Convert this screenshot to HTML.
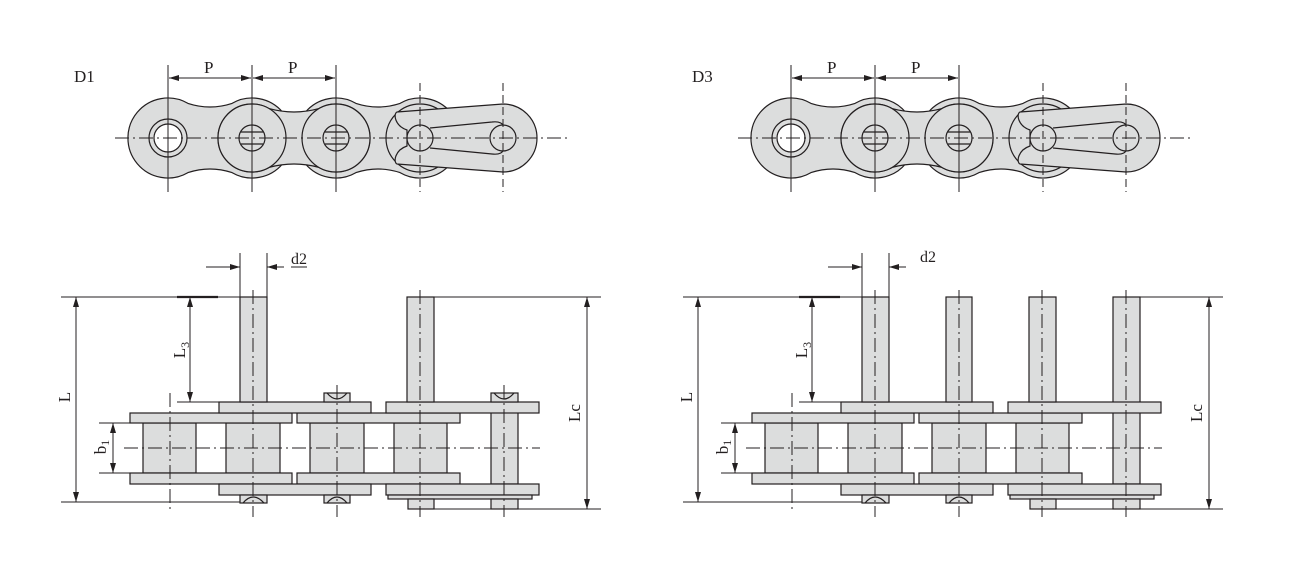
<!DOCTYPE html>
<html><head><meta charset="utf-8"><style>
html,body{margin:0;padding:0;background:#fff;}
svg{display:block;}
text{font-family:"Liberation Serif",serif;fill:#231f20;}
</style></head><body>
<svg width="1315" height="575" viewBox="0 0 1315 575" xmlns="http://www.w3.org/2000/svg">
<defs>
<marker id="a" viewBox="0 0 10 6" refX="10" refY="3" markerWidth="10" markerHeight="6" orient="auto" markerUnits="userSpaceOnUse"><path d="M0,0 L10,3 L0,6 Z" fill="#231f20"/></marker>
</defs>

<g id="top" stroke="#231f20" stroke-width="1.2" fill="#dcdddd">
  <path d="M188,103.4 A40 40 0 1 0 188,172.6 Q210,165.4 232,172.6 A40 40 0 1 0 232,103.4 Q210,110.6 188,103.4 Z"/>
  <path d="M356,103.4 A40 40 0 1 0 356,172.6 Q378,165.4 400,172.6 A40 40 0 1 0 400,103.4 Q378,110.6 356,103.4 Z"/>
  <path d="M269,108.6 A34 34 0 1 0 269,167.4 Q294,160.6 319,167.4 A34 34 0 1 0 319,108.6 Q294,115.4 269,108.6 Z"/>
  <circle cx="252" cy="138" r="34"/>
  <circle cx="336" cy="138" r="34"/>
  <circle cx="420" cy="138" r="34"/>
  <path d="M503,104 A34 34 0 0 1 503,172 L397,164 C393,162 395,150 407,146 L407,130 C395,126 393,114 397,112 Z"/>
  <path d="M430,128 L492,122 C500,121 503,124 503,126 M430,148 L492,154 C500,155 503,152 503,150" fill="none"/>
  <circle cx="168" cy="138" r="19"/>
  <circle cx="168" cy="138" r="14" fill="#fff"/>
  <circle cx="252" cy="138" r="13"/>
  <circle cx="336" cy="138" r="13"/>
  <path d="M241,132 H263 M241,144 H263 M325,132 H347 M325,144 H347" fill="none"/>
  <circle cx="420" cy="138" r="13"/>
  <circle cx="503" cy="138" r="13"/>
  <g fill="none" stroke-width="1">
    <path d="M115,138 H568" stroke-dasharray="14,4,2,4"/>
    <path d="M168,65 V192 M252,65 V192 M336,65 V192"/>
    <path d="M420,83 V192 M503,83 V192" stroke-dasharray="8,4"/>
    <path d="M170,78 H251" marker-end="url(#a)"/>
    <path d="M251,78 H169" marker-end="url(#a)"/>
    <path d="M253,78 H335" marker-end="url(#a)"/>
    <path d="M335,78 H253" marker-end="url(#a)"/>
  </g>
</g>
<use href="#top" x="623" y="0"/>
<text x="74" y="82" font-size="17">D1</text>
<text x="204" y="73" font-size="17">P</text>
<text x="288" y="73" font-size="17">P</text>
<text x="692" y="82" font-size="17">D3</text>
<text x="827" y="73" font-size="17">P</text>
<text x="911" y="73" font-size="17">P</text>

<g stroke="#231f20" stroke-width="1.2" fill="#dcdddd">
  <rect x="143" y="423" width="53" height="50"/>
  <rect x="226" y="423" width="54" height="50"/>
  <rect x="310" y="423" width="54" height="50"/>
  <rect x="394" y="423" width="53" height="50"/>
  <rect x="491" y="402" width="27" height="82"/>
  <rect x="130" y="413" width="162" height="10"/>
  <rect x="297" y="413" width="163" height="10"/>
  <rect x="130" y="473" width="162" height="11"/>
  <rect x="297" y="473" width="163" height="11"/>
  <rect x="219" y="402" width="152" height="11"/>
  <rect x="386" y="402" width="153" height="11"/>
  <rect x="219" y="484" width="152" height="11"/>
  <rect x="386" y="484" width="153" height="11"/>
  <rect x="240" y="297" width="27" height="105"/>
  <rect x="407" y="297" width="27" height="105"/>
  <rect x="324" y="393" width="26" height="9"/>
  <rect x="491" y="393" width="27" height="9"/>
  <rect x="240" y="495" width="27" height="8"/>
  <rect x="324" y="495" width="26" height="8"/>
  <rect x="388" y="495" width="144" height="4"/>
  <rect x="408" y="499" width="26" height="10"/>
  <rect x="491" y="499" width="27" height="10"/>
  <path d="M327,393 Q337,405 347,393 M494,393 Q504,405 514,393 M243,503 Q253,491 264,503 M327,503 Q337,491 347,503" fill="none"/>
  <g fill="none" stroke-width="1">
    <path d="M124,448 H540" stroke-dasharray="14,4,2,4"/>
    <path d="M170,393 V510 M253,290 V517 M337,385 V517 M420,290 V517 M504,385 V517" stroke-dasharray="14,4,2,4"/>
    <path d="M61,297 H240 M434,297 H601 M61,502 H240 M434,509 H601 M177,402 H240 M99,423 H143 M99,473 H143"/>
    <path d="M177,297 H218" stroke-width="2.2"/>
    <path d="M240,253 V297 M267,253 V297"/>
    <path d="M206,267 H240" marker-end="url(#a)"/>
    <path d="M284,267 H267" marker-end="url(#a)"/>
    <path d="M291,267 H307"/>
    <path d="M76,400 V297" marker-end="url(#a)"/>
    <path d="M76,400 V502" marker-end="url(#a)"/>
    <path d="M190,350 V297" marker-end="url(#a)"/>
    <path d="M190,350 V402" marker-end="url(#a)"/>
    <path d="M587,400 V297" marker-end="url(#a)"/>
    <path d="M587,400 V509" marker-end="url(#a)"/>
    <path d="M113,448 V423" marker-end="url(#a)"/>
    <path d="M113,448 V473" marker-end="url(#a)"/>
  </g>
</g>
<text x="291" y="264" font-size="16">d2</text>
<text transform="translate(70,397) rotate(-90)" font-size="17" text-anchor="middle">L</text>
<text transform="translate(185,350) rotate(-90)" font-size="17" text-anchor="middle">L<tspan font-size="12" dy="4">3</tspan></text>
<text transform="translate(580,413) rotate(-90)" font-size="17" text-anchor="middle">Lc</text>
<text transform="translate(106,447) rotate(-90)" font-size="17" text-anchor="middle">b<tspan font-size="12" dy="3">1</tspan></text>

<g transform="translate(622,0)" stroke="#231f20" stroke-width="1.2" fill="#dcdddd">
  <rect x="143" y="423" width="53" height="50"/>
  <rect x="226" y="423" width="54" height="50"/>
  <rect x="310" y="423" width="54" height="50"/>
  <rect x="394" y="423" width="53" height="50"/>
  <rect x="491" y="297" width="27" height="187"/>
  <rect x="130" y="413" width="162" height="10"/>
  <rect x="297" y="413" width="163" height="10"/>
  <rect x="130" y="473" width="162" height="11"/>
  <rect x="297" y="473" width="163" height="11"/>
  <rect x="219" y="402" width="152" height="11"/>
  <rect x="386" y="402" width="153" height="11"/>
  <rect x="219" y="484" width="152" height="11"/>
  <rect x="386" y="484" width="153" height="11"/>
  <rect x="240" y="297" width="27" height="105"/>
  <rect x="324" y="297" width="26" height="105"/>
  <rect x="407" y="297" width="27" height="105"/>
  <rect x="240" y="495" width="27" height="8"/>
  <rect x="324" y="495" width="26" height="8"/>
  <rect x="388" y="495" width="144" height="4"/>
  <rect x="408" y="499" width="26" height="10"/>
  <rect x="491" y="499" width="27" height="10"/>
  <path d="M243,503 Q253,491 264,503 M327,503 Q337,491 347,503" fill="none"/>
  <g fill="none" stroke-width="1">
    <path d="M124,448 H540" stroke-dasharray="14,4,2,4"/>
    <path d="M170,393 V510 M253,290 V517 M337,290 V517 M420,290 V517 M504,290 V517" stroke-dasharray="14,4,2,4"/>
    <path d="M61,297 H240 M518,297 H601 M61,502 H240 M434,509 H601 M177,402 H240 M99,423 H143 M99,473 H143"/>
    <path d="M177,297 H218" stroke-width="2.2"/>
    <path d="M240,253 V297 M267,253 V297"/>
    <path d="M206,267 H240" marker-end="url(#a)"/>
    <path d="M284,267 H267" marker-end="url(#a)"/>
    <path d="M76,400 V297" marker-end="url(#a)"/>
    <path d="M76,400 V502" marker-end="url(#a)"/>
    <path d="M190,350 V297" marker-end="url(#a)"/>
    <path d="M190,350 V402" marker-end="url(#a)"/>
    <path d="M587,400 V297" marker-end="url(#a)"/>
    <path d="M587,400 V509" marker-end="url(#a)"/>
    <path d="M113,448 V423" marker-end="url(#a)"/>
    <path d="M113,448 V473" marker-end="url(#a)"/>
  </g>
</g>
<text x="920" y="262" font-size="16">d2</text>
<text transform="translate(692,397) rotate(-90)" font-size="17" text-anchor="middle">L</text>
<text transform="translate(807,350) rotate(-90)" font-size="17" text-anchor="middle">L<tspan font-size="12" dy="4">3</tspan></text>
<text transform="translate(1202,413) rotate(-90)" font-size="17" text-anchor="middle">Lc</text>
<text transform="translate(728,447) rotate(-90)" font-size="17" text-anchor="middle">b<tspan font-size="12" dy="3">1</tspan></text>
</svg>
</body></html>
